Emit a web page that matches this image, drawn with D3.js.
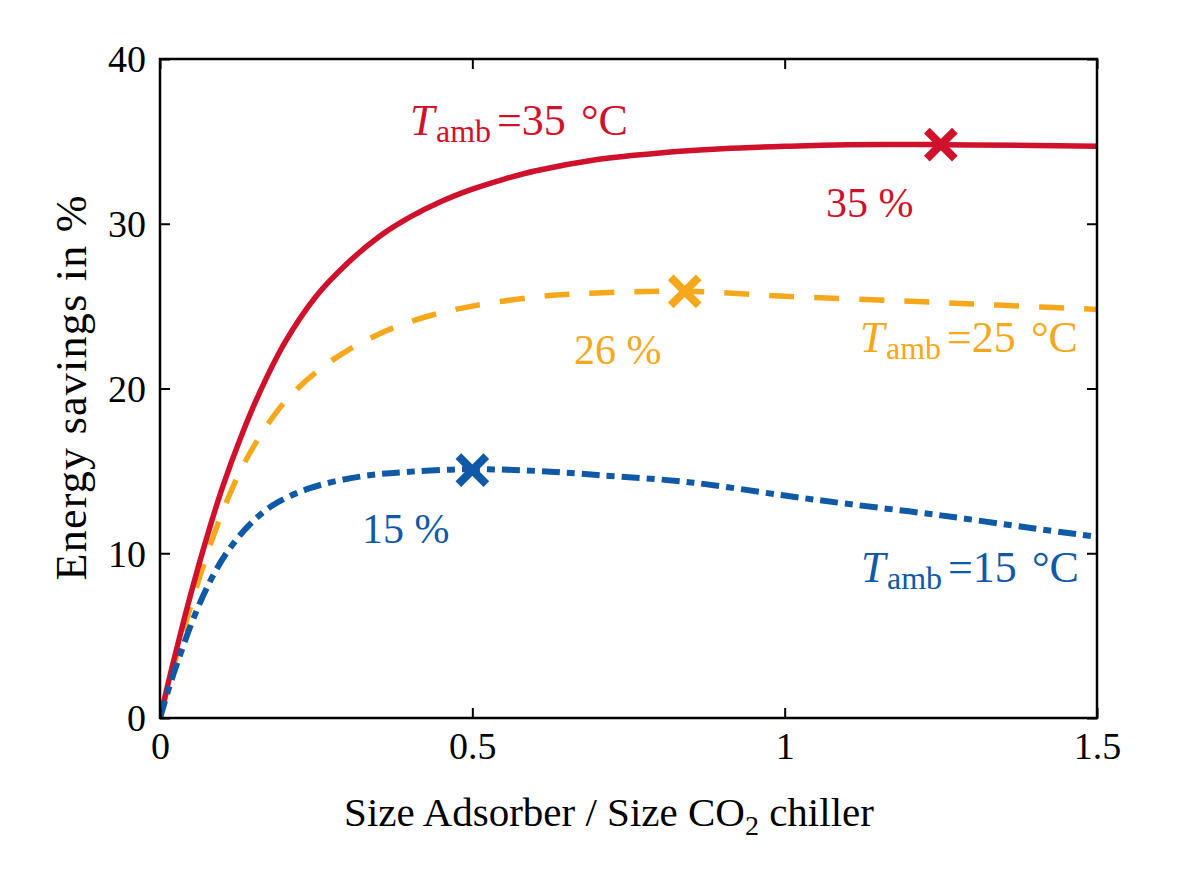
<!DOCTYPE html>
<html>
<head>
<meta charset="utf-8">
<script src="https://cdn.jsdelivr.net/npm/d3@7"></script>
<style>
  html, body { margin: 0; padding: 0; background: #fff; }
  svg { display: block; }
  text { font-family: "Liberation Serif", "Times New Roman", serif; }
</style>
</head>
<body>
<svg id="chart" width="1200" height="871"></svg>
<script>
// ---- data ----
const xTicks = [0, 0.5, 1, 1.5];
const xTickLabels = ["0", "0.5", "1", "1.5"];
const yTicks = [0, 10, 20, 30, 40];
const yTickLabels = ["0", "10", "20", "30", "40"];

const redX = [0, 0.02, 0.04, 0.06, 0.08, 0.1, 0.13, 0.16, 0.2, 0.25, 0.3, 0.35, 0.4, 0.45, 0.5, 0.55, 0.6, 0.7, 0.8, 0.9, 1.0, 1.1, 1.25, 1.4, 1.5];
const redY = [0, 3.2, 6.2, 9.0, 11.6, 14.0, 17.1, 19.8, 22.8, 25.6, 27.6, 29.2, 30.4, 31.35, 32.1, 32.7, 33.2, 33.9, 34.3, 34.55, 34.7, 34.8, 34.8, 34.75, 34.7];

const orangeX = [0, 0.02, 0.05, 0.075, 0.1, 0.13, 0.16, 0.2, 0.25, 0.3, 0.35, 0.4, 0.45, 0.5, 0.6, 0.7, 0.84, 1.0, 1.2, 1.35, 1.5];
const orangeY = [0, 2.9, 6.9, 9.9, 12.5, 15.1, 17.1, 19.2, 21.0, 22.3, 23.3, 24.05, 24.6, 25.0, 25.55, 25.8, 25.9, 25.6, 25.3, 25.05, 24.8];

const blueX = [0, 0.015, 0.03, 0.05, 0.07, 0.09, 0.11, 0.14, 0.18, 0.24, 0.32, 0.4, 0.5, 0.6, 0.7, 0.85, 1.0, 1.1, 1.25, 1.4, 1.5];
const blueY = [0, 1.9, 3.6, 5.7, 7.5, 9.0, 10.2, 11.6, 12.9, 13.95, 14.65, 14.95, 15.1, 15.0, 14.75, 14.3, 13.5, 13.0, 12.3, 11.5, 11.0];

const optima = [
  { series: "red", x: 1.25, y: 34.8, label: "35 %" },
  { series: "orange", x: 0.84, y: 25.9, label: "26 %" },
  { series: "blue", x: 0.5, y: 15.05, label: "15 %" }
];
const seriesTemps = { red: "35", orange: "25", blue: "15" };

// ---- styles ----
const colors = { red: "#D0112B", orange: "#F6A81C", blue: "#0F59A6" };
const dashes = { red: null, orange: "25 20", blue: "18 7 8 7" };
const widths = { red: 5.5, orange: 5.5, blue: 6 };

const svg = d3.select("#chart");
const L = 160, R = 1097, T = 59, B = 718;
const x = d3.scaleLinear().domain([0, 1.5]).range([L, R]);
const y = d3.scaleLinear().domain([0, 40]).range([B, T]);

const series = [
  { key: "red", xs: redX, ys: redY },
  { key: "orange", xs: orangeX, ys: orangeY },
  { key: "blue", xs: blueX, ys: blueY }
];

const line = d3.line().x(d => x(d[0])).y(d => y(d[1])).curve(d3.curveCatmullRom.alpha(0.5));

const plot = svg.append("g");
svg.append("clipPath").attr("id", "clip")
  .append("rect").attr("x", L).attr("y", T).attr("width", R - L).attr("height", B - T);

["orange", "red", "blue"].forEach(k => {
  const s = series.find(d => d.key === k);
  const pts = s.xs.map((v, i) => [v, s.ys[i]]);
  plot.append("path")
    .attr("d", line(pts))
    .attr("fill", "none")
    .attr("stroke", colors[k])
    .attr("stroke-width", widths[k])
    .attr("stroke-dasharray", dashes[k])
    .attr("clip-path", "url(#clip)");
});

// markers
optima.forEach(o => {
  const cx = x(o.x), cy = y(o.y), h = 14;
  const g = plot.append("g").attr("stroke", colors[o.series]).attr("stroke-width", 8);
  g.append("line").attr("x1", cx - h).attr("y1", cy - h).attr("x2", cx + h).attr("y2", cy + h);
  g.append("line").attr("x1", cx - h).attr("y1", cy + h).attr("x2", cx + h).attr("y2", cy - h);
});

// axes box
svg.append("rect").attr("x", L).attr("y", T).attr("width", R - L).attr("height", B - T)
  .attr("fill", "none").attr("stroke", "#000").attr("stroke-width", 2.5);

const tickLen = 10;
const gxb = svg.append("g").attr("transform", `translate(0,${B})`)
  .call(d3.axisBottom(x).tickValues(xTicks).tickSize(-tickLen).tickPadding(14)
    .tickFormat((d, i) => xTickLabels[i]));
const gxt = svg.append("g").attr("transform", `translate(0,${T})`)
  .call(d3.axisTop(x).tickValues(xTicks).tickSize(-tickLen).tickFormat(""));
const gyl = svg.append("g").attr("transform", `translate(${L},0)`)
  .call(d3.axisLeft(y).tickValues(yTicks).tickSize(-tickLen).tickPadding(14)
    .tickFormat((d, i) => yTickLabels[i]));
const gyr = svg.append("g").attr("transform", `translate(${R},0)`)
  .call(d3.axisRight(y).tickValues(yTicks).tickSize(-tickLen).tickFormat(""));

[gxb, gxt, gyl, gyr].forEach(g => {
  g.select(".domain").remove();
  g.selectAll(".tick line").attr("stroke", "#000").attr("stroke-width", 2);
  g.selectAll("text").attr("font-family", "Liberation Serif").attr("font-size", 38).attr("fill", "#000");
});
gxb.selectAll("text").attr("dy", "0.71em");
gyl.selectAll("text").attr("dy", "0.34em");

// axis titles
svg.append("text")
  .attr("x", 609).attr("y", 826)
  .attr("text-anchor", "middle")
  .attr("font-size", 41)
  .attr("fill", "#000")
  .call(t => {
    t.append("tspan").text("Size Adsorber / Size CO");
    t.append("tspan").attr("font-size", 28).attr("dy", 9).text("2");
    t.append("tspan").attr("dy", -9).text(" chiller");
  });

svg.append("text")
  .attr("transform", "translate(86,388) rotate(-90)")
  .attr("text-anchor", "middle")
  .attr("font-size", 44)
  .attr("textLength", 385)
  .attr("lengthAdjust", "spacing")
  .attr("fill", "#000")
  .text("Energy savings in %");

// series labels (T_amb = xx °C)
const labelPos = {
  red: { x: 410, y: 135 },
  orange: { x: 860, y: 352 },
  blue: { x: 861, y: 582 }
};
Object.keys(labelPos).forEach(k => {
  const p = labelPos[k];
  const t = svg.append("text").attr("y", p.y).attr("font-size", 44).attr("fill", colors[k]);
  t.append("tspan").attr("x", p.x).attr("font-style", "italic").text("T");
  t.append("tspan").attr("x", p.x + 26).attr("font-size", 32).attr("dy", 7).text("amb");
  t.append("tspan").attr("x", p.x + 87).attr("dy", -7).text("=" + seriesTemps[k]);
  t.append("tspan").attr("x", p.x + 171).text("°C");
});

// optimum value labels
const valPos = { red: { x: 826, y: 217 }, orange: { x: 574, y: 364 }, blue: { x: 362, y: 543 } };
optima.forEach(o => {
  const p = valPos[o.series];
  svg.append("text").attr("x", p.x).attr("y", p.y)
    .attr("font-size", 42).attr("fill", colors[o.series])
    .text(o.label);
});
</script>
</body>
</html>
